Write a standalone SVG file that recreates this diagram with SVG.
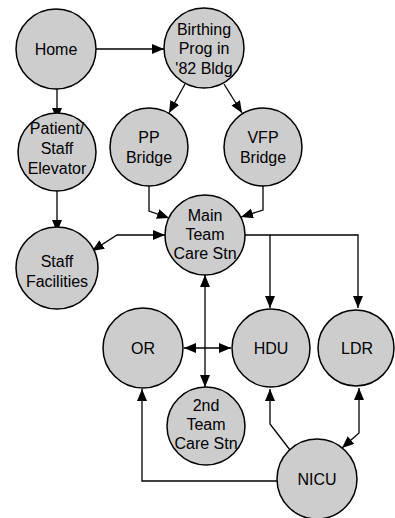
<svg xmlns="http://www.w3.org/2000/svg" width="395" height="518" viewBox="0 0 395 518">
  <style>
    .node circle { fill: #cdcdcd; stroke: #000; stroke-width: 1.5; }
    .node text { font-family: "Liberation Sans", Arial, sans-serif; font-size: 16px; fill: #000; text-anchor: middle; }
    .edge { fill: none; stroke: #000; stroke-width: 1.3; }
  </style>
  <defs>
    <marker id="arrow" viewBox="0 0 12 10" refX="12" refY="5" markerWidth="12" markerHeight="10" markerUnits="userSpaceOnUse" orient="auto-start-reverse">
      <path d="M0,0 L12,5 L0,10 z" fill="#000"/>
    </marker>
  </defs>
  <rect width="395" height="518" fill="#fff"/>

  <g id="connectors">
    <path class="edge" d="M96,49 L164,49" marker-end="url(#arrow)"/>
    <path class="edge" d="M57,89 L57,120" marker-end="url(#arrow)"/>
    <path class="edge" d="M185,84 L169,113" marker-end="url(#arrow)"/>
    <path class="edge" d="M224,84 L242,113" marker-end="url(#arrow)"/>
    <path class="edge" d="M57,191 L57,232" marker-end="url(#arrow)"/>
    <path class="edge" d="M149,186 L149,211 L169,218" marker-end="url(#arrow)"/>
    <path class="edge" d="M263,186 L263,210 L241,217" marker-end="url(#arrow)"/>
    <path class="edge" d="M92,251 L117,235 L165,235" marker-start="url(#arrow)" marker-end="url(#arrow)"/>
    <path class="edge" d="M244,235 L358,235 L358,308" marker-end="url(#arrow)"/>
    <path class="edge" d="M270,235 L270,308" marker-end="url(#arrow)"/>
    <path class="edge" d="M205,275 L205,387" marker-start="url(#arrow)" marker-end="url(#arrow)"/>
    <path class="edge" d="M184,348 L231,348" marker-start="url(#arrow)" marker-end="url(#arrow)"/>
    <path class="edge" d="M277,481 L142,481 L142,389" marker-end="url(#arrow)"/>
    <path class="edge" d="M290,450 L270,424 L270,389" marker-end="url(#arrow)"/>
    <path class="edge" d="M359,388 L359,433 L342,448" marker-start="url(#arrow)" marker-end="url(#arrow)"/>
  </g>

  <g id="home" class="node">
    <circle cx="56" cy="49" r="40"/>
    <text x="56" y="55">Home</text>
  </g>
  <g id="birthing" class="node">
    <circle cx="204" cy="48" r="40"/>
    <text x="204" y="35">Birthing</text>
    <text x="204" y="54">Prog in</text>
    <text x="204" y="74">'82 Bldg</text>
  </g>
  <g id="elevator" class="node">
    <circle cx="57" cy="152" r="39"/>
    <text x="57" y="134">Patient/</text>
    <text x="57" y="154">Staff</text>
    <text x="57" y="174">Elevator</text>
  </g>
  <g id="pp-bridge" class="node">
    <circle cx="149" cy="147" r="39"/>
    <text x="149" y="143">PP</text>
    <text x="149" y="163">Bridge</text>
  </g>
  <g id="vfp-bridge" class="node">
    <circle cx="263" cy="147" r="39"/>
    <text x="263" y="143">VFP</text>
    <text x="263" y="163">Bridge</text>
  </g>
  <g id="main-team" class="node">
    <circle cx="205" cy="235" r="40"/>
    <text x="205" y="221">Main</text>
    <text x="205" y="240">Team</text>
    <text x="205" y="259">Care Stn</text>
  </g>
  <g id="staff-facilities" class="node">
    <circle cx="57" cy="268" r="41"/>
    <text x="57" y="267">Staff</text>
    <text x="57" y="287">Facilities</text>
  </g>
  <g id="or" class="node">
    <circle cx="143" cy="348" r="40"/>
    <text x="143" y="354">OR</text>
  </g>
  <g id="hdu" class="node">
    <circle cx="271" cy="348" r="39"/>
    <text x="271" y="354">HDU</text>
  </g>
  <g id="ldr" class="node">
    <circle cx="356" cy="348" r="38"/>
    <text x="357" y="354">LDR</text>
  </g>
  <g id="second-team" class="node">
    <circle cx="206" cy="426" r="39"/>
    <text x="206" y="411">2nd</text>
    <text x="206" y="430">Team</text>
    <text x="206" y="449">Care Stn</text>
  </g>
  <g id="nicu" class="node">
    <circle cx="317" cy="479" r="40"/>
    <text x="317" y="485">NICU</text>
  </g>
</svg>
